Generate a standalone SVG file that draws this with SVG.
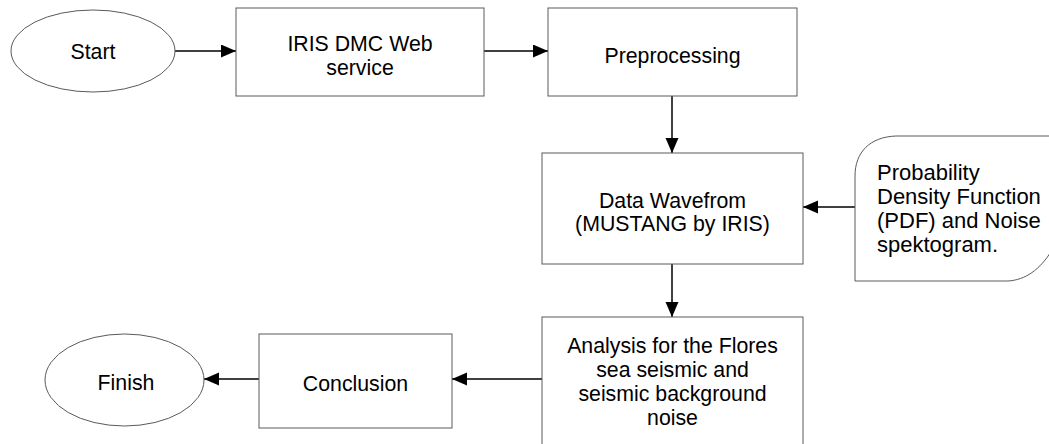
<svg xmlns="http://www.w3.org/2000/svg" width="1049" height="444" viewBox="0 0 1049 444">
<style>
.shape{fill:#fff;stroke:#5a5a5a;stroke-width:1}
.t{font-family:"Liberation Sans",Arial,sans-serif;font-size:21.3px;fill:#000}
.c{text-anchor:middle}
.conn{stroke:#000;stroke-width:1.5;fill:none}
</style>
<defs>
<marker id="ah" markerUnits="userSpaceOnUse" markerWidth="16" markerHeight="14" refX="15" refY="6.5" orient="auto">
<path d="M0,0 L15,6.5 L0,13 Z" fill="#000"/>
</marker>
</defs>
<rect width="1049" height="444" fill="#fff"/>
<g id="connectors">
<line class="conn" x1="175" y1="51" x2="236" y2="51" marker-end="url(#ah)"/>
<line class="conn" x1="484" y1="51" x2="548" y2="51" marker-end="url(#ah)"/>
<line class="conn" x1="672" y1="96" x2="672" y2="153" marker-end="url(#ah)"/>
<line class="conn" x1="855" y1="207" x2="803" y2="207" marker-end="url(#ah)"/>
<line class="conn" x1="672" y1="264" x2="672" y2="317" marker-end="url(#ah)"/>
<line class="conn" x1="542" y1="379" x2="452" y2="379" marker-end="url(#ah)"/>
<line class="conn" x1="259" y1="379" x2="204" y2="379" marker-end="url(#ah)"/>
</g>
<g id="start">
<ellipse class="shape" cx="93" cy="51" rx="82" ry="41"/>
<text class="t c" x="93" y="58.5">Start</text>
</g>
<g id="iris">
<rect class="shape" x="236" y="8" width="248" height="88"/>
<text class="t c" x="360" y="50.5">IRIS DMC Web</text>
<text class="t c" x="360" y="74.5">service</text>
</g>
<g id="preprocessing">
<rect class="shape" x="548" y="8" width="249" height="88"/>
<text class="t c" x="672.5" y="62.5">Preprocessing</text>
</g>
<g id="data">
<rect class="shape" x="542" y="153" width="261" height="111"/>
<text class="t c" x="672.5" y="207.5">Data Wavefrom</text>
<text class="t c" x="672.5" y="230.5">(MUSTANG by IRIS)</text>
</g>
<g id="pdf">
<path class="shape" d="M855,281 L855,176 C855,152 870,137 896,136 L1052,136 L1052,250 C1040,270 1025,280 1008,281 Z"/>
<text class="t" x="877" y="180" style="font-size:22px">Probability</text>
<text class="t" x="877" y="204" style="font-size:22px">Density Function</text>
<text class="t" x="877" y="228" style="font-size:22px">(PDF) and Noise</text>
<text class="t" x="877" y="252" style="font-size:22px">spektogram.</text>
</g>
<g id="analysis">
<rect class="shape" x="542" y="317" width="261" height="140"/>
<text class="t c" x="672.5" y="352.5">Analysis for the Flores</text>
<text class="t c" x="672.5" y="376.5">sea seismic and</text>
<text class="t c" x="672.5" y="400.5">seismic background</text>
<text class="t c" x="672.5" y="424.5">noise</text>
</g>
<g id="conclusion">
<rect class="shape" x="259" y="334" width="193" height="94"/>
<text class="t c" x="355.5" y="390.5">Conclusion</text>
</g>
<g id="finish">
<ellipse class="shape" cx="124.5" cy="380" rx="79.5" ry="46"/>
<text class="t c" x="126" y="389.5">Finish</text>
</g>
</svg>
